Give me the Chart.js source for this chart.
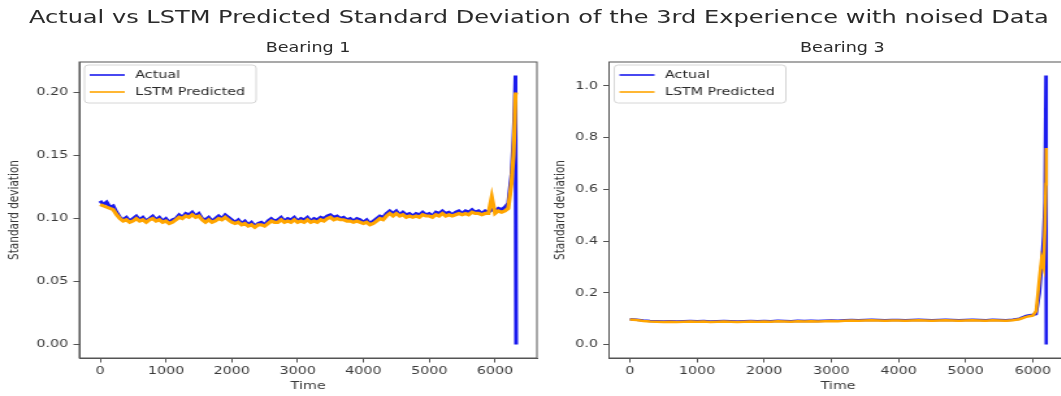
<!DOCTYPE html>
<html>
<head>
<meta charset="utf-8">
<script src="https://cdn.jsdelivr.net/npm/chart.js@4.4.0/dist/chart.umd.min.js"></script>
<style>
html, body { margin: 0; padding: 0; background: #fff; overflow: hidden; }
body { width: 1061px; height: 396px; position: relative; }
/* the reference figure is stretched sideways, so the whole figure is drawn narrow and scaled */
#fig { position: absolute; left: 0; top: 0; width: 840px; height: 396px;
       transform: scaleX(1.3); transform-origin: 0 0;
       font-family: "DejaVu Sans", sans-serif; color: #2a2a2a; }
.t { position: absolute; text-align: center; white-space: nowrap; }
#sup { left: 0; width: 829px; top: 6px; line-height: 22px; font-size: 18.5px; }
#t1 { left: 137px; width: 200px; top: 39px; line-height: 16px; font-size: 13.5px; }
#t3 { left: 548px; width: 200px; top: 39px; line-height: 16px; font-size: 13.5px; }
canvas { position: absolute; top: 40px; }
#c1 { left: 0; }
#c3 { left: 420px; }
</style>
</head>
<body>
<div id="fig">
  <div class="t" id="sup">Actual vs LSTM Predicted Standard Deviation of the 3rd Experience with noised Data</div>
  <div class="t" id="t1">Bearing 1</div>
  <div class="t" id="t3">Bearing 3</div>
  <canvas id="c1" width="420" height="356"></canvas>
  <canvas id="c3" width="420" height="356"></canvas>
</div>
<script>
// ---- data ----
function range(a, b, step) { var r = []; for (var v = a; v <= b; v += step) r.push(v); return r; }

// Bearing 1: sampled every 50 up to 6250, then the end of the run
var b1Time = range(0, 6250, 50).concat([6280, 6300, 6310, 6320]);
var b1Actual = [
  .114,.111,.113,.109,.110,.105,.101,.099,.101,.098,
  .100,.102,.099,.101,.098,.100,.102,.099,.101,.098,
  .100,.097,.099,.100,.103,.101,.104,.103,.105,.102,
  .104,.100,.099,.101,.098,.100,.102,.100,.103,.101,
  .099,.097,.099,.096,.098,.095,.097,.094,.096,.097,
  .095,.098,.100,.098,.099,.101,.098,.100,.099,.101,
  .098,.100,.099,.101,.098,.100,.099,.101,.100,.102,
  .103,.101,.102,.100,.101,.099,.100,.098,.100,.099,
  .097,.099,.096,.098,.100,.102,.101,.104,.106,.104,
  .106,.103,.105,.103,.104,.102,.104,.103,.105,.103,
  .104,.102,.105,.104,.106,.104,.105,.103,.105,.106,
  .104,.106,.105,.107,.105,.106,.104,.106,.105,.107,
  .106,.108,.107,.109,.112,.135,
  .162,.190,.2135,0
];
var b1Pred = [
  .111,.110,.109,.108,.107,.103,.100,.098,.099,.097,
  .098,.100,.098,.099,.097,.099,.100,.098,.099,.097,
  .098,.096,.097,.099,.101,.100,.102,.101,.103,.101,
  .102,.099,.097,.099,.097,.098,.100,.099,.101,.099,
  .097,.096,.097,.095,.096,.094,.095,.093,.095,.095,
  .094,.096,.098,.097,.097,.099,.097,.098,.097,.099,
  .097,.098,.097,.099,.097,.098,.097,.099,.098,.100,
  .101,.099,.100,.099,.099,.098,.098,.097,.098,.097,
  .096,.097,.095,.096,.098,.100,.099,.102,.104,.102,
  .104,.102,.103,.101,.102,.101,.102,.101,.103,.102,
  .102,.101,.103,.102,.104,.102,.103,.102,.103,.104,
  .103,.104,.103,.105,.104,.104,.103,.104,.104,.117,
  .104,.106,.105,.106,.108,.128,
  .150,.178,.198,.200
];

// Bearing 3: sampled every 100 up to 5900, then the end of the run
var b3Time = range(0, 5900, 100).concat([6000, 6050, 6100, 6130, 6160, 6180, 6195, 6200]);
var b3Actual = [
  .098,.096,.093,.091,.090,.089,.090,.089,.090,.091,
  .090,.091,.089,.090,.091,.090,.089,.090,.091,.090,
  .091,.090,.092,.091,.090,.092,.091,.092,.091,.092,
  .093,.092,.094,.095,.094,.095,.096,.095,.094,.095,
  .095,.094,.095,.096,.095,.094,.095,.096,.095,.094,
  .095,.096,.095,.094,.096,.095,.094,.096,.100,.110,
  .115,.118,.200,.300,.420,.550,1.04,0
];
var b3Pred = [
  .097,.095,.091,.089,.088,.087,.088,.087,.088,.089,
  .088,.089,.087,.088,.089,.088,.087,.088,.089,.088,
  .089,.088,.090,.089,.088,.090,.089,.090,.089,.090,
  .091,.090,.092,.093,.092,.093,.094,.093,.092,.093,
  .093,.092,.093,.094,.093,.092,.093,.094,.093,.092,
  .093,.094,.093,.092,.094,.093,.092,.094,.098,.107,
  .112,.130,.260,.330,.300,.450,.620,.760
];

var xTicks = [0, 1000, 2000, 3000, 4000, 5000, 6000];
var b1YTicks = [0, 0.05, 0.10, 0.15, 0.20];
var b3YTicks = [0, 0.2, 0.4, 0.6, 0.8, 1.0];
var seriesNames = ["Actual", "LSTM Predicted"];
var seriesColors = ["#1a1aee", "#ffa500"];

// ---- drawing ----
var tickFont = { family: "DejaVu Sans", size: 11 };
var ink = "#3a3a3a";
var spine = "#555";

function pts(t, v) { return t.map(function (x, i) { return { x: x, y: v[i] }; }); }

var framePlugin = {
  id: "frame",
  afterDatasetsDraw: function (chart) {
    var a = chart.chartArea, ctx = chart.ctx;
    ctx.save();
    ctx.strokeStyle = spine;
    ctx.lineWidth = 1;
    ctx.strokeRect(a.left, a.top, a.right - a.left, a.bottom - a.top);
    ctx.restore();
  }
};

// matplotlib-style legend inside the axes, upper left
var boxLegend = {
  id: "boxLegend",
  afterDatasetsDraw: function (chart) {
    var a = chart.chartArea, ctx = chart.ctx;
    var x = a.left + 4, y = a.top + 3, w = 132, h = 38;
    ctx.save();
    ctx.beginPath();
    ctx.roundRect(x, y, w, h, 3);
    ctx.fillStyle = "rgba(255,255,255,0.8)";
    ctx.fill();
    ctx.strokeStyle = "#d6d6d6";
    ctx.lineWidth = 1;
    ctx.stroke();
    ctx.font = "11px 'DejaVu Sans'";
    ctx.textBaseline = "middle";
    seriesNames.forEach(function (name, i) {
      var ry = a.top + 13 + i * 17;
      ctx.strokeStyle = seriesColors[i];
      ctx.lineWidth = 1.6;
      ctx.beginPath();
      ctx.moveTo(a.left + 8, ry);
      ctx.lineTo(a.left + 35, ry);
      ctx.stroke();
      ctx.fillStyle = "#2a2a2a";
      ctx.fillText(name, a.left + 43, ry);
    });
    ctx.restore();
  }
};

function makeChart(id, time, actual, pred, cfg) {
  return new Chart(document.getElementById(id), {
    type: "line",
    data: {
      datasets: [
        { label: seriesNames[0], data: pts(time, actual), borderColor: seriesColors[0],
          borderWidth: cfg.lw[0], pointRadius: 0, tension: 0, order: 2 },
        { label: seriesNames[1], data: pts(time, pred), borderColor: seriesColors[1],
          borderWidth: cfg.lw[1], pointRadius: 0, tension: 0, order: 1 }
      ]
    },
    options: {
      responsive: false,
      animation: false,
      devicePixelRatio: 1,
      layout: { padding: { top: 22, right: cfg.rightPad, left: 0, bottom: 0 } },
      plugins: { legend: { display: false }, tooltip: { enabled: false } },
      scales: {
        x: {
          type: "linear", min: cfg.xMin, max: cfg.xMax,
          afterBuildTicks: function (s) { s.ticks = xTicks.map(function (v) { return { value: v }; }); },
          afterFit: function (s) { s.height = 38; },
          ticks: { font: tickFont, color: ink, padding: 2, maxRotation: 0, autoSkip: false,
                   callback: function (v) { return String(v); } },
          grid: { drawOnChartArea: false, drawTicks: true, tickLength: 4.5, color: spine },
          border: { color: spine, width: 1 },
          title: { display: true, text: "Time", font: tickFont, color: ink, padding: { top: 0, bottom: 3 } }
        },
        y: {
          min: cfg.yMin, max: cfg.yMax,
          afterBuildTicks: function (s) { s.ticks = cfg.yTicks.map(function (v) { return { value: v }; }); },
          afterFit: function (s) { s.width = cfg.yWidth; },
          ticks: { font: tickFont, color: ink, padding: 4,
                   callback: function (v) { return v.toFixed(cfg.digits); } },
          grid: { drawOnChartArea: false, drawTicks: true, tickLength: 4.5, color: spine },
          border: { color: spine, width: 1 },
          title: { display: true, text: "Standard deviation", font: { family: "DejaVu Sans", size: 10.5 },
                   color: ink, padding: { top: 5, bottom: 0 } }
        }
      }
    },
    plugins: [framePlugin, boxLegend]
  });
}

makeChart("c1", b1Time, b1Actual, b1Pred, {
  xMin: -316, xMax: 6636, yMin: -0.0107, yMax: 0.2242, yTicks: b1YTicks, digits: 2,
  yWidth: 61, rightPad: 7, lw: [3, 3.2]
});
makeChart("c3", b3Time, b3Actual, b3Pred, {
  xMin: -310, xMax: 6510, yMin: -0.052, yMax: 1.092, yTicks: b3YTicks, digits: 1,
  yWidth: 48.5, rightPad: 19.2, lw: [2.6, 2.6]
});
</script>
</body>
</html>
